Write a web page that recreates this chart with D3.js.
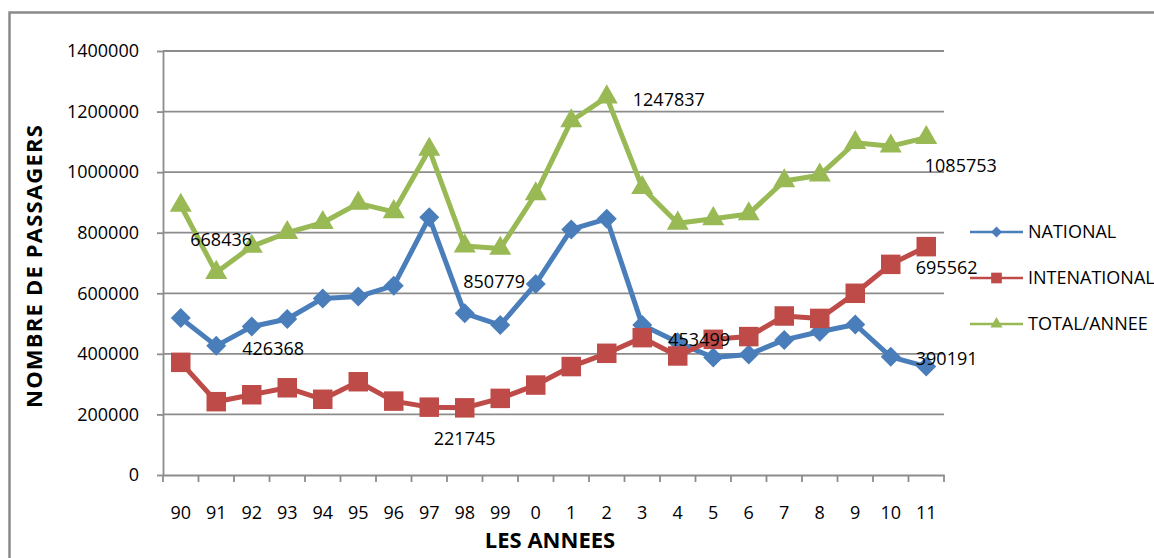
<!DOCTYPE html>
<html>
<head>
<meta charset="utf-8">
<script src="https://cdn.jsdelivr.net/npm/d3@7"></script>
<style>
    body { margin: 0; background: #fff; }
    svg { display: block; font-family: "Open Sans", sans-serif; }
</style>
</head>
<body>
<svg id="chart" width="1154" height="558"></svg>
<script>
const years = ["90", "91", "92", "93", "94", "95", "96", "97", "98", "99", "0", "1", "2", "3", "4", "5", "6", "7", "8", "9", "10", "11"];

const national = [518000, 426368, 490000, 515000, 583000, 589000, 625000, 850779, 534000, 495000, 631000,
    811000, 846000, 495000, 438000, 388000, 398000, 446000, 473000, 497000, 390191, 358000];
const international = [372000, 242068, 265000, 288000, 250000, 308000, 244000, 224000, 221745, 253000, 297000,
    358000, 401837, 453499, 393000, 448000, 457000, 525000, 517000, 600000, 695562, 754000];
const total = [890000, 668436, 755000, 800000, 833000, 897000, 869000, 1074779, 755745, 748000, 928000,
    1169000, 1247837, 948499, 831000, 846000, 862000, 971000, 990000, 1097000, 1085753, 1114000];

const seriesNames = ["NATIONAL", "INTENATIONAL", "TOTAL/ANNEE"];
const yTicks = [0, 200000, 400000, 600000, 800000, 1000000, 1200000, 1400000];

// which point gets a value label: [series index, year]
const labelPoints = [[2, "91"], [0, "91"], [0, "97"], [1, "98"], [2, "2"], [1, "3"], [2, "10"], [1, "10"], [0, "10"]];
// pixel offsets of those labels (dragged around in the original)
const labelOffsets = [[-26, -33], [26, 3], [34, 64], [-31, 31], [26, 2], [26, 2], [34, 19], [25, 3], [25, 2]];

const colors = ["#4a7ebb", "#be4b48", "#98b954"];
const plot = {left: 163, right: 944, top: 51, bottom: 475};

const svg = d3.select("#chart");

// outer chart frame (right/bottom edges fall outside the picture)
svg.append("rect")
    .attr("x", 9.5).attr("y", 12.5)
    .attr("width", 1160).attr("height", 560)
    .attr("fill", "none")
    .attr("stroke", "#8a8a8a")
    .attr("stroke-width", 2.5);

const x = d3.scaleBand().domain(years).range([plot.left, plot.right]).padding(0);
const y = d3.scaleLinear().domain([0, 1400000]).range([plot.bottom, plot.top]);
const cx = d => x(d) + x.bandwidth() / 2;

// gridlines
svg.append("g").selectAll("line")
    .data(yTicks.filter(t => t > 0))
    .enter().append("line")
    .attr("x1", plot.left).attr("x2", plot.right)
    .attr("y1", d => y(d)).attr("y2", d => y(d))
    .attr("stroke", "#8c8c8c").attr("stroke-width", 1.8);

// y axis
const yAxis = svg.append("g")
    .attr("transform", `translate(${plot.left},0)`)
    .call(d3.axisLeft(y).tickValues(yTicks).tickFormat(d3.format("d")).tickSize(6).tickSizeOuter(0).tickPadding(18));
yAxis.select(".domain").attr("stroke", "#8c8c8c").attr("stroke-width", 1.8);
yAxis.selectAll(".tick line").attr("stroke", "#8c8c8c").attr("stroke-width", 1.8);
yAxis.selectAll("text").attr("font-size", 18).attr("fill", "#000").attr("font-family", "Open Sans");

// x axis: labels at band centres, tick marks at band edges
const xAxis = svg.append("g")
    .attr("transform", `translate(0,${plot.bottom})`)
    .call(d3.axisBottom(x).tickSize(0).tickSizeOuter(0).tickPadding(31));
xAxis.select(".domain").attr("stroke", "#8c8c8c").attr("stroke-width", 1.8);
xAxis.selectAll("text").attr("font-size", 18).attr("fill", "#000").attr("font-family", "Open Sans");
xAxis.selectAll(".edge")
    .data(years.map(d => x(d)).concat([plot.right]))
    .enter().append("line")
    .attr("class", "edge")
    .attr("x1", d => d).attr("x2", d => d)
    .attr("y1", 0).attr("y2", 7)
    .attr("stroke", "#8c8c8c").attr("stroke-width", 1.8);

// axis titles
svg.append("text")
    .attr("x", 550).attr("y", 548)
    .attr("text-anchor", "middle")
    .attr("font-size", 22).attr("font-weight", "bold")
    .text("LES ANNEES");
svg.append("text")
    .attr("transform", "translate(42,266) rotate(-90)")
    .attr("text-anchor", "middle")
    .attr("font-size", 22).attr("font-weight", "bold")
    .attr("letter-spacing", 1.2)
    .text("NOMBRE DE PASSAGERS");

// series
const allSeries = [national, international, total];
const symbols = [d3.symbolSquare, d3.symbolSquare, d3.symbolTriangle];
const rotations = [45, 0, 0];
const markerSizes = [200, 380, 210];
const line = d3.line().x((d, i) => cx(years[i])).y(d => y(d));

allSeries.forEach((values, s) => {
    const g = svg.append("g");
    g.append("path")
        .datum(values)
        .attr("d", line)
        .attr("fill", "none")
        .attr("stroke", colors[s])
        .attr("stroke-width", 5)
        .attr("stroke-linejoin", "round");
    g.selectAll("path.marker")
        .data(values)
        .enter().append("path")
        .attr("class", "marker")
        .attr("transform", (d, i) => `translate(${cx(years[i])},${y(d)}) rotate(${rotations[s]})`)
        .attr("d", d3.symbol().type(symbols[s]).size(markerSizes[s]))
        .attr("fill", colors[s]);
});

// value labels
svg.append("g").selectAll("text")
    .data(labelPoints)
    .enter().append("text")
    .attr("x", (d, i) => cx(d[1]) + labelOffsets[i][0])
    .attr("y", (d, i) => y(allSeries[d[0]][years.indexOf(d[1])]) + labelOffsets[i][1])
    .attr("dy", "0.36em")
    .attr("font-size", 18)
    .attr("fill", "#000")
    .text(d => allSeries[d[0]][years.indexOf(d[1])]);

// legend
const legend = svg.append("g").attr("transform", "translate(970,232)");
seriesNames.forEach((name, s) => {
    const row = legend.append("g").attr("transform", `translate(0,${s * 46})`);
    row.append("line")
        .attr("x1", 0).attr("x2", 53)
        .attr("stroke", colors[s]).attr("stroke-width", 2.5);
    row.append("path")
        .attr("transform", `translate(26.5,0) rotate(${rotations[s]})`)
        .attr("d", d3.symbol().type(symbols[s]).size(markerSizes[s] * 0.3))
        .attr("fill", colors[s]);
    row.append("text")
        .attr("x", 58).attr("dy", "0.36em")
        .attr("font-size", 18)
        .text(name);
});
</script>
</body>
</html>
